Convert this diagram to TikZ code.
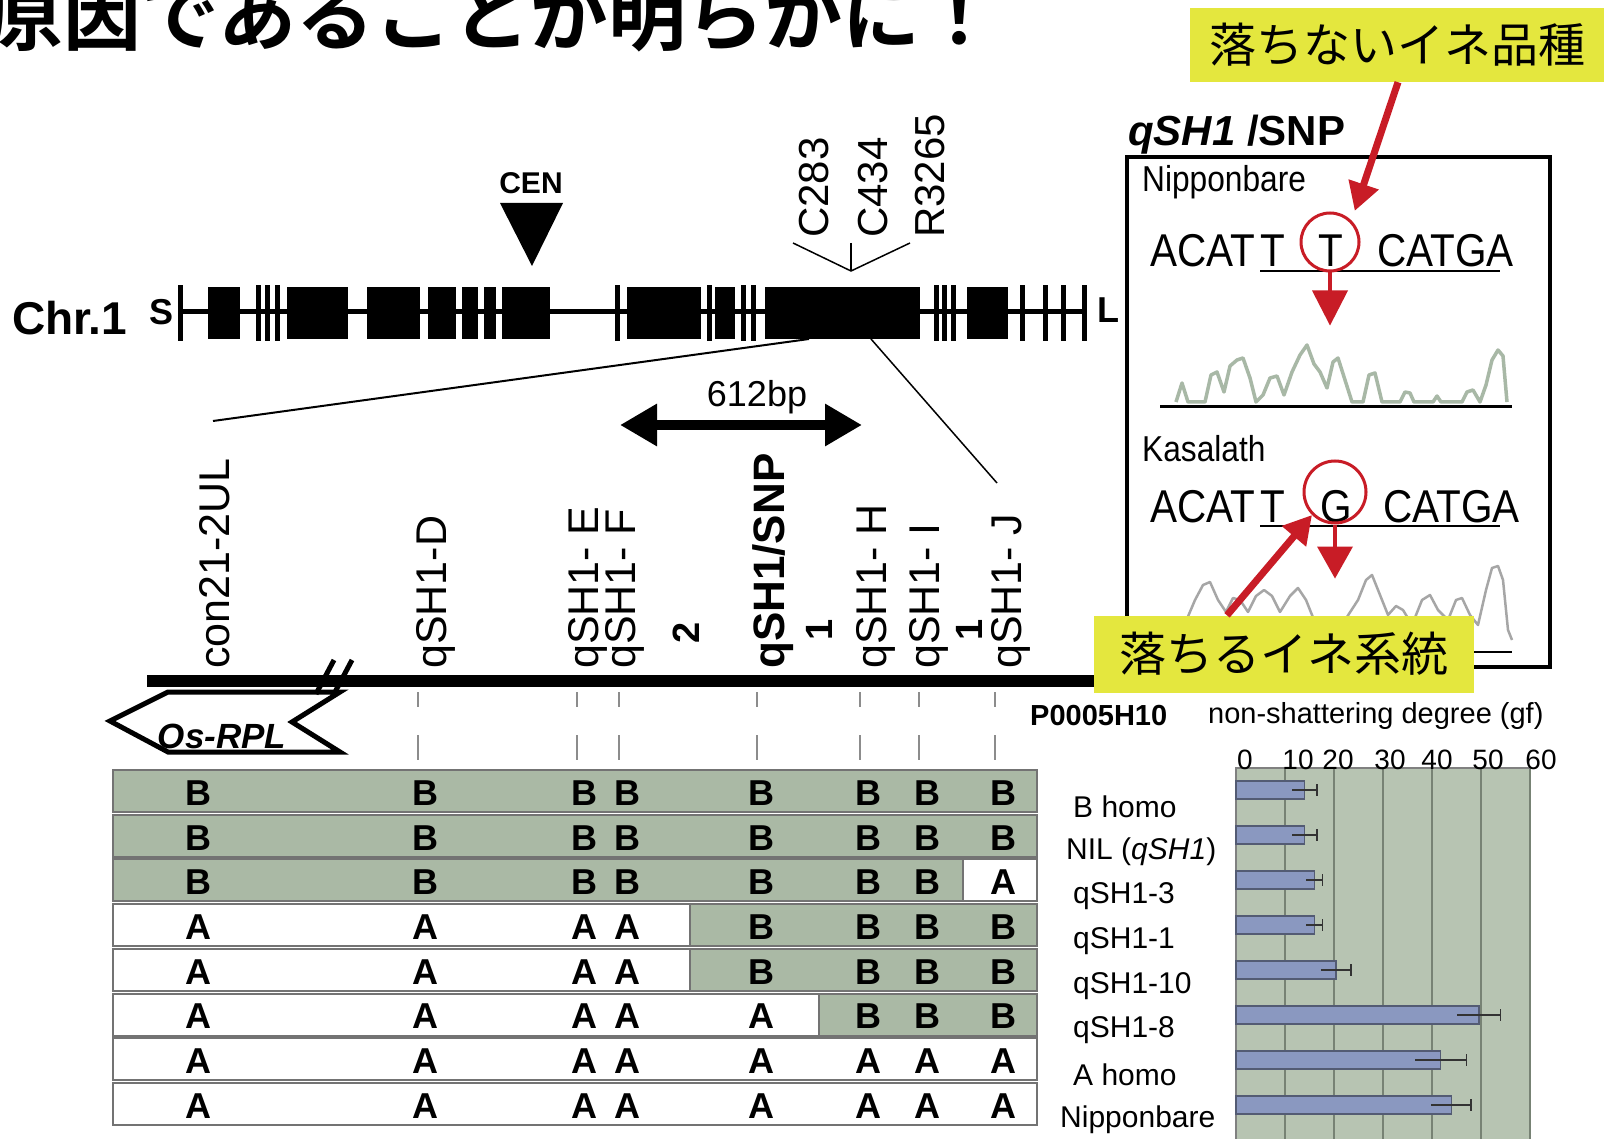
\documentclass[tikz,border=0pt]{standalone}
\usepackage{fontspec}
\setmainfont{Liberation Sans}
\newfontfamily\jpfont{Noto Sans CJK JP}
\newfontfamily\jpbold{Noto Sans CJK JP Bold}
\usetikzlibrary{arrows.meta, positioning, calc}
\definecolor{genogreen}{RGB}{170,185,165}
\definecolor{barblue}{RGB}{138,152,192}
\definecolor{hiyellow}{RGB}{228,231,62}
\definecolor{snpred}{RGB}{200,28,38}
\definecolor{tracegreen}{RGB}{168,184,166}
\newcommand{\fsz}[1]{\fontsize{#1}{#1}\selectfont}
\newcommand{\narrow}[1]{\scalebox{0.88}[1]{#1}}

\begin{document}
\begin{tikzpicture}[x=1pt, y=-1pt,
  every node/.style={inner sep=0pt},
  mklabel/.style={rotate=90, anchor=west, font=\fsz{43}},
  geno/.style={font=\bfseries\fsz{36}},
  seqtext/.style={anchor=base west, font=\fsz{46}},
  snpcirc/.style={draw=snpred, circle, line width=3pt},
  redarrow/.style={draw=snpred, line width=7pt, -{Triangle[length=28pt,width=30pt]}},
  hilabel/.style={fill=hiyellow, font=\jpfont\fsz{47}},
  rowframe/.style={draw=black!55, line width=2pt},
  tickline/.style={draw=black!45, line width=1.5pt}]
\useasboundingbox (0,0) rectangle (1610,1139);
\fill[white] (0,0) rectangle (1610,1139);

% タイトル（上半分が切れている）
\begin{scope}
  \clip (0,0) rectangle (1610,1139);
  \node[anchor=base west, font=\jpbold\fsz{78}] (title) at (-15,45) {原因であることが明らかに！};
\end{scope}

% 第1染色体
\draw[line width=5pt] (180,312) -- (1084,312);
\foreach \a/\b in {208/240, 287/348, 367/420, 428/456, 462/478, 484/496, 502/550, 627/701, 715/735, 765/920, 967/1008}
  \fill (\a,287) rectangle (\b,339);
\foreach \t in {180, 258, 267, 277, 617, 709, 743, 753, 936, 944, 953, 1022, 1045, 1063, 1084}
  \fill ({\t-2.5},285) rectangle ({\t+2.5},341);
\node[anchor=west, font=\bfseries\fsz{46}] (chr) at (12,318) {Chr.1};
\node[font=\bfseries\fsz{36}] (send) at (162,312) {S};
\node[font=\bfseries\fsz{36}] (lend) at (1108,310) {L};

% セントロメア
\node[font=\bfseries\fsz{30}] (cen) at (531,183) {CEN};
\fill (500,203) -- (563,203) -- (532,266) -- cycle;

% 連鎖地図のマーカー
\node[mklabel, font=\fsz{42}] (c283) at (814,238) {C283};
\node[mklabel, font=\fsz{42}] (c434) at (873,238) {C434};
\node[mklabel, font=\fsz{42}] (r3265) at (930,238) {R3265};
\coordinate (mkjoin) at (851,271);
\coordinate (c283ft) at (793,243);
\coordinate (c434ft) at (851,243);
\coordinate (r3265ft) at (910,243);
\draw[line width=1.5pt] (c283ft) -- (mkjoin) -- (r3265ft);
\draw[line width=1.5pt] (c434ft) -- (mkjoin);

% 拡大線
\coordinate (zoomL) at (809,339);
\coordinate (zoomR) at (871,339);
\coordinate (conTop) at (213,421);
\coordinate (qjTop) at (997,483);
\draw[line width=2pt] (zoomL) -- (conTop);
\draw[line width=1.5pt] (zoomR) -- (qjTop);

% 詳細地図
\draw[line width=12pt] (147,681) -- (1100,681);
\draw[line width=5pt, fill=white] (110,721) -- (168,692) -- (340,692) -- (292,722) -- (340,752) -- (168,752) -- cycle;
\node[font=\bfseries\itshape\fsz{35}] (osrpl) at (222,736) {Os-RPL};
\draw[line width=5pt] (316,694) -- (334,660);
\draw[line width=5pt] (334,694) -- (352,660);

\node[mklabel] (con) at (215,669) {con21-2UL};
\node[mklabel] (qd) at (436,669) {qSH1-D};
\node[mklabel] (qe) at (588,669) {qSH1- E};
\node[mklabel] (qf) at (625,669) {qSH1- F};
\node[mklabel, font=\bfseries\fsz{44}] (qsnp) at (773,669) {qSH1/SNP};
\node[mklabel] (qh) at (876,669) {qSH1- H};
\node[mklabel] (qi) at (929,669) {qSH1- I};
\node[mklabel] (qj) at (1011,669) {qSH1- J};
\node[rotate=90, font=\bfseries\fsz{38}] (rec1) at (686,633) {2};
\node[rotate=90, font=\bfseries\fsz{38}] (rec2) at (819,630) {1};
\node[rotate=90, font=\bfseries\fsz{38}] (rec3) at (969,630) {1};
\foreach \x in {418, 577, 619, 757, 860, 919, 995} {
  \draw[tickline] (\x,692) -- (\x,707);
  \draw[tickline] (\x,735) -- (\x,760);
}

% 612bp
\coordinate (bpL) at (620,425);
\coordinate (bpR) at (862,425);
\draw[line width=10pt, {Triangle[length=37pt,width=40pt]}-{Triangle[length=37pt,width=40pt]}] (bpL) -- (bpR);
\node[font=\fsz{36}] (bp) at (757,397) {612bp};

% 遺伝子型（緑=B）
\foreach \i/\ga/\gb in {0/113/1037, 1/113/1037, 2/113/963, 3/690/1037, 4/690/1037, 5/819/1037, 6/0/0, 7/0/0} {
  \pgfmathsetmacro\rt{770+44.7*\i}
  \pgfmathsetmacro\rb{\rt+42}
  \pgfmathsetmacro\rc{\rt+23}
  \fill[white] (113,\rt) rectangle (1037,\rb);
  \ifnum\ga>0
    \fill[genogreen] (\ga,\rt) rectangle (\gb,\rb);
    \draw[rowframe] (\ga,\rt) -- (\ga,\rb) (\gb,\rt) -- (\gb,\rb);
  \fi
  \draw[rowframe] (113,\rt) rectangle (1037,\rb);
  \foreach \x [count=\j] in {198,425,584,627,761,868,927,1003}
    \node[geno] (g\i-\j) at (\x,\rc) {\ifdim\x pt>\ga pt\relax\ifdim\x pt<\gb pt\relax B\else A\fi\else A\fi};
}

% 脱粒性のグラフ
\node[anchor=west, font=\bfseries\fsz{29}] (bac) at (1030,716) {P0005H10};
\node[anchor=west, font=\fsz{29}] (trait) at (1208,716) {non-shattering degree (gf)};
\fill[genogreen!85!white] (1236,768) rectangle (1530,1139);
\foreach \v in {10,20,...,60}
  \draw[black!30!genogreen, line width=1.5pt] ({1236+4.9*\v},768) -- ({1236+4.9*\v},1139);
\draw[black!50, line width=1.5pt] (1236,1139) -- (1236,768) -- (1530,768);
\foreach \v/\x in {0/1245,10/1298,20/1338,30/1390,40/1437,50/1488,60/1541}
  \node[font=\fsz{28}] (ax\v) at (\x,760) {\v};
\foreach \i/\v/\e in {0/14/16.5, 1/14/16.5, 2/16/17.7, 3/16/17.7, 4/20.4/23.5, 5/49.6/54, 6/41.8/47, 7/43.9/48} {
  \pgfmathsetmacro\bc{790+45*\i}
  \pgfmathsetmacro\bx{1236+4.9*\v}
  \pgfmathsetmacro\ex{1236+4.9*\e}
  \pgfmathsetmacro\lx{1236+4.9*(2*\v-\e)}
  \filldraw[fill=barblue, draw=barblue!60!black, line width=1.2pt] (1236,{\bc-9}) rectangle (\bx,{\bc+9});
  \draw[line width=1.5pt, black!80] (\lx,\bc) -- (\ex,\bc) (\ex,{\bc-6}) -- (\ex,{\bc+6});
}
\foreach \i/\x/\t in {0/1073/B homo, 1/1066/{NIL (\textit{qSH1})}, 2/1073/qSH1-3, 3/1073/qSH1-1, 4/1073/qSH1-10, 5/1073/qSH1-8, 6/1073/A homo, 7/1060/Nipponbare}
  \node[anchor=west, font=\fsz{30}] (lab\i) at (\x,{807+44.7*\i}) {\t};

% qSH1/SNP の枠
\draw[line width=4pt] (1127,157) rectangle (1550,667);
\node[anchor=base west, font=\bfseries\fsz{42}] (snphead) at (1128,146) {\textit{qSH1} /SNP};

% 日本晴
\node[anchor=base west, font=\fsz{36}] (nipname) at (1142,192) {\narrow{Nipponbare}};
\node[seqtext] (nseqa) at (1150,267) {\narrow{ACAT}};
\node[seqtext] (nseqb) at (1260,267) {\narrow{T}};
\node[seqtext, anchor=base] (nsnp) at (1331,267) {\narrow{T}};
\node[seqtext] (nseqc) at (1377,267) {\narrow{CATGA}};
\draw[line width=2.5pt] (1260,271) -- (1500,271);
\node[snpcirc, minimum size=58pt] (ncirc) at (1330,242) {};
\draw[snpred, line width=4pt] (ncirc.south) -- ++(0,20);
\fill[snpred] ($(ncirc.south)+(-18,18)$) -- ++(36,0) -- ($(ncirc.south)+(0,53)$) -- cycle;
\draw[tracegreen, line width=3.5pt, line join=round] plot coordinates {(1176,402) (1182,383) (1188,402) (1205,402) (1211,375) (1217,372) (1224,392) (1230,366) (1237,360) (1243,358) (1250,378) (1256,402) (1263,395) (1270,378) (1277,376) (1284,395) (1292,372) (1300,355) (1307,345) (1314,364) (1320,372) (1327,388) (1333,362) (1338,358) (1345,380) (1352,402) (1363,402) (1369,375) (1375,373) (1382,402) (1400,402) (1405,392) (1410,393) (1414,402) (1433,402) (1437,396) (1441,402) (1462,402) (1467,392) (1473,390) (1480,402) (1486,385) (1492,360) (1498,350) (1503,356) (1507,402)};
\draw[line width=3pt] (1160,407) -- (1512,407);

% カサラス
\node[anchor=base west, font=\fsz{36}] (kasname) at (1142,462) {\narrow{Kasalath}};
\node[seqtext] (kseqa) at (1150,522) {\narrow{ACAT}};
\node[seqtext] (kseqb) at (1260,522) {\narrow{T}};
\node[seqtext, anchor=base] (ksnp) at (1336,522) {\narrow{G}};
\node[seqtext] (kseqc) at (1383,522) {\narrow{CATGA}};
\draw[line width=2.5pt] (1260,526) -- (1500,526);
\node[snpcirc, minimum size=62pt] (kcirc) at (1335,492) {};
\draw[snpred, line width=4pt] (kcirc.south) -- ++(0,22);
\fill[snpred] ($(kcirc.south)+(-18,22)$) -- ++(36,0) -- ($(kcirc.south)+(0,54)$) -- cycle;
\draw[black!35, line width=2.5pt, line join=round] plot coordinates {(1178,640) (1195,600) (1203,585) (1210,582) (1218,600) (1226,612) (1233,598) (1240,600) (1248,612) (1256,596) (1264,590) (1272,596) (1280,612) (1290,596) (1298,588) (1306,600) (1316,625) (1330,640) (1345,620) (1358,600) (1366,580) (1372,575) (1378,590) (1388,615) (1396,606) (1403,610) (1412,625) (1422,600) (1430,595) (1438,610) (1448,620) (1456,600) (1462,598) (1470,615) (1478,625) (1486,590) (1492,568) (1498,566) (1503,580) (1508,630) (1512,640)};
\draw[line width=2.5pt] (1160,652) -- (1512,652);

% 黄色のラベルと赤矢印
\node[hilabel, minimum width=414pt, minimum height=74pt] (nonshat) at (1397,45) {落ちないイネ品種};
\node[hilabel, minimum width=380pt, minimum height=77pt] (shatline) at (1284,654) {落ちるイネ系統};
\draw[redarrow, shorten >=10pt] ([xshift=1pt]nonshat.south) -- (ncirc.north east);
\draw[redarrow] ([xshift=-57pt]shatline.north) -- (kcirc.south west);
\end{tikzpicture}
\end{document}
